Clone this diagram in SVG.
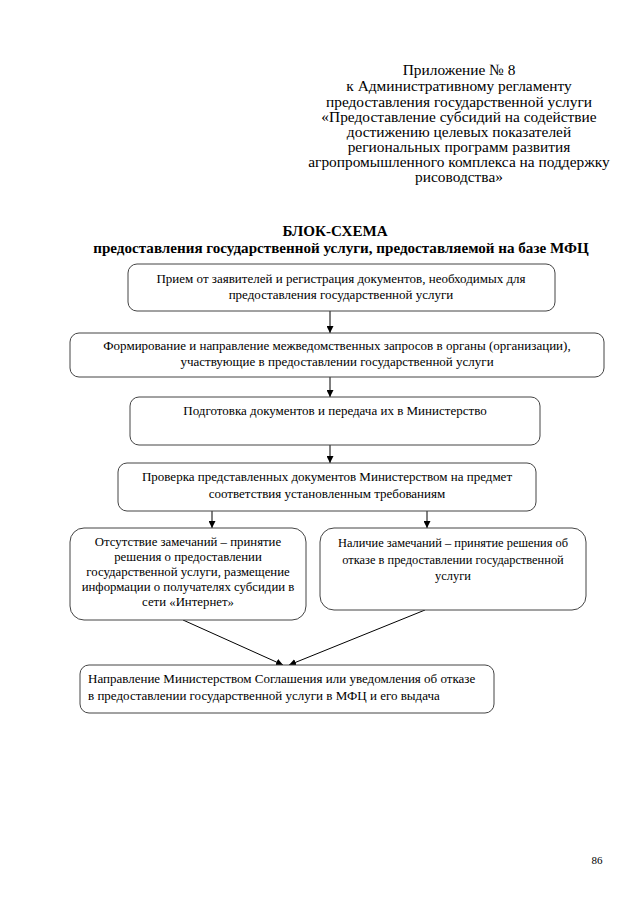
<svg xmlns="http://www.w3.org/2000/svg" width="640" height="905" viewBox="0 0 640 905">
<style>
text{font-family:"Liberation Serif","Times New Roman",serif;fill:#000}
.hd{font-size:15.4px;text-anchor:middle}
.tt{font-size:15.1px;font-weight:bold;text-anchor:middle}
.bx{fill:#fff;stroke:#444;stroke-width:1}
.t{font-size:13px;text-anchor:middle}
.s{font-size:12.8px;text-anchor:middle}
.r{font-size:12.4px;text-anchor:middle}
.l{font-size:13px;text-anchor:start}
.c{stroke:#000;stroke-width:1;fill:none}
</style>
<defs>
<marker id="ah" viewBox="0 0 10 10" refX="10" refY="5" markerWidth="7" markerHeight="7" orient="auto" markerUnits="userSpaceOnUse">
<path d="M0,0 L10,5 L0,10 z" fill="#000"/>
</marker>
</defs>
<rect width="640" height="905" fill="#fff"/>
<g id="header">
<text class="hd" x="459" y="75">Приложение № 8</text>
<text class="hd" x="459" y="91">к Административному регламенту</text>
<text class="hd" x="459" y="107">предоставления государственной услуги</text>
<text class="hd" x="459" y="122">«Предоставление субсидий на содействие</text>
<text class="hd" x="459" y="137">достижению целевых показателей</text>
<text class="hd" x="459" y="152">региональных программ развития</text>
<text class="hd" x="459" y="167">агропромышленного комплекса на поддержку</text>
<text class="hd" x="459" y="182">рисоводства»</text>
</g>
<g id="title">
<text class="tt" x="335" y="236">БЛОК-СХЕМА</text>
<text class="tt" x="341" y="253">предоставления государственной услуги, предоставляемой на базе МФЦ</text>
</g>
<g id="connectors">
<line class="c" x1="330" y1="311" x2="330" y2="333" marker-end="url(#ah)"/>
<line class="c" x1="330" y1="377" x2="330" y2="397" marker-end="url(#ah)"/>
<line class="c" x1="330" y1="445" x2="330" y2="463" marker-end="url(#ah)"/>
<line class="c" x1="212" y1="511" x2="212" y2="528" marker-end="url(#ah)"/>
<line class="c" x1="427" y1="511" x2="427" y2="528" marker-end="url(#ah)"/>
<line class="c" x1="183" y1="620" x2="283" y2="665" marker-end="url(#ah)"/>
<line class="c" x1="425" y1="610" x2="289" y2="665" marker-end="url(#ah)"/>
</g>
<g id="n1">
<rect class="bx" x="128" y="264" width="427" height="47" rx="9"/>
<text class="t" x="341" y="283">Прием от заявителей и регистрация документов, необходимых для</text>
<text class="t" x="341" y="299">предоставления государственной услуги</text>
</g>
<g id="n2">
<rect class="bx" x="70" y="333" width="534" height="44" rx="9"/>
<text class="t" x="337" y="350">Формирование и направление межведомственных запросов в органы (организации),</text>
<text class="t" x="337" y="366">участвующие в предоставлении государственной услуги</text>
</g>
<g id="n3">
<rect class="bx" x="130" y="397" width="410" height="48" rx="9"/>
<text class="t" x="335" y="415">Подготовка документов и передача их в Министерство</text>
</g>
<g id="n4">
<rect class="bx" x="118" y="463" width="418" height="48" rx="9"/>
<text class="t" x="327" y="481">Проверка представленных документов Министерством на предмет</text>
<text class="t" x="327" y="498">соответствия установленным требованиям</text>
</g>
<g id="n5">
<rect class="bx" x="70" y="528" width="236" height="92" rx="14"/>
<text class="s" x="188" y="546">Отсутствие замечаний – принятие</text>
<text class="s" x="188" y="561">решения о предоставлении</text>
<text class="s" x="188" y="576">государственной услуги, размещение</text>
<text class="s" x="188" y="591">информации о получателях субсидии в</text>
<text class="s" x="188" y="606">сети «Интернет»</text>
</g>
<g id="n6">
<rect class="bx" x="320" y="528" width="266" height="82" rx="14"/>
<text class="r" x="453" y="547">Наличие замечаний – принятие решения об</text>
<text class="r" x="453" y="564">отказе в предоставлении государственной</text>
<text class="r" x="453" y="580">услуги</text>
</g>
<g id="n7">
<rect class="bx" x="80" y="665" width="414" height="48" rx="9"/>
<text class="l" x="88" y="683">Направление Министерством Соглашения или уведомления об отказе</text>
<text class="l" x="88" y="700">в предоставлении государственной услуги в МФЦ и его выдача</text>
</g>
<text x="597" y="864" style="font-size:11px;text-anchor:middle">86</text>
</svg>
